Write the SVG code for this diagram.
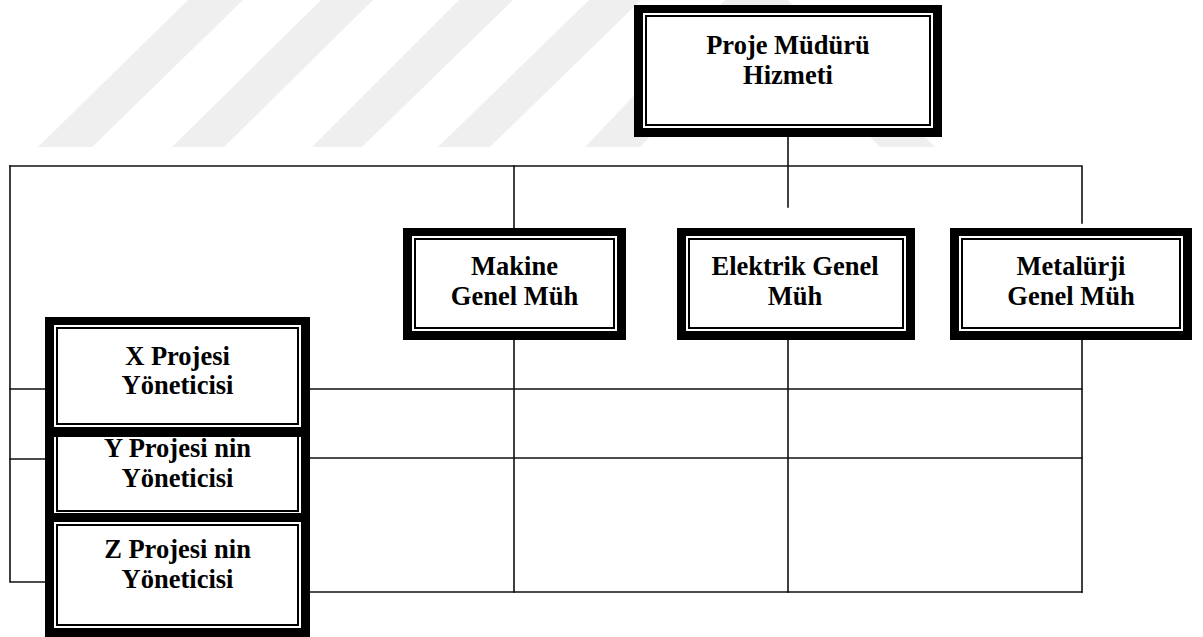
<svg xmlns="http://www.w3.org/2000/svg" width="1203" height="637" viewBox="0 0 1203 637">
<style>
.wm{fill:#efefef}
.ln{stroke:#111;stroke-width:1.6;fill:none;stroke-linecap:square}
.o{fill:#000}
.g{fill:#fff}
.i{fill:#fff;stroke:#000;stroke-width:2}
text{font-family:"Liberation Serif","Times New Roman",serif;font-weight:bold;font-size:26.5px;fill:#000;text-anchor:middle}
</style>
<rect width="1203" height="637" fill="#fff"/>
<g id="watermark">
<polygon class="wm" points="38,147 92,147 243,0 188,0"/>
<polygon class="wm" points="172,147 224,147 373,0 321,0"/>
<polygon class="wm" points="312,147 362,147 513,0 459,0"/>
<polygon class="wm" points="438,147 490,147 641,0 589,0"/>
<polygon class="wm" points="585,147 640,147 780,0 725,0"/>
<polygon class="wm" points="880,147 935,147 788,0 733,0"/>
</g>
<g id="connectors">
<path class="ln" d="M10,166 H1082 V223"/>
<path class="ln" d="M10,166 V582 H45"/>
<path class="ln" d="M10,389 H45 M10,459 H45"/>
<path class="ln" d="M514,166 V228"/>
<path class="ln" d="M788,137 V207"/>
<path class="ln" d="M310,389 H1082 M310,458 H1082 M310,592 H1082"/>
<path class="ln" d="M514,340 V592 M788,340 V592 M1082,340 V592"/>
</g>
<g id="n-top">
<rect class="o" x="634" y="5" width="308" height="132"/>
<rect class="g" x="643" y="13" width="290" height="115"/>
<rect class="i" x="646" y="16" width="284" height="109"/>
<text x="788" y="54">Proje Müdürü</text>
<text x="788" y="84">Hizmeti</text>
</g>
<g id="n-makine">
<rect class="o" x="403" y="228" width="223" height="112"/>
<rect class="g" x="412" y="236" width="205" height="95"/>
<rect class="i" x="415" y="239" width="199" height="89"/>
<text x="514.5" y="275">Makine</text>
<text x="514.5" y="305">Genel Müh</text>
</g>
<g id="n-elektrik">
<rect class="o" x="677" y="228" width="238" height="112"/>
<rect class="g" x="686" y="236" width="220" height="95"/>
<rect class="i" x="689" y="239" width="214" height="89"/>
<text x="795" y="275">Elektrik Genel</text>
<text x="795" y="305">Müh</text>
</g>
<g id="n-metalurji">
<rect class="o" x="950" y="228" width="242" height="112"/>
<rect class="g" x="959" y="236" width="224" height="95"/>
<rect class="i" x="962" y="239" width="218" height="89"/>
<text x="1071" y="275">Metalürji</text>
<text x="1071" y="305">Genel Müh</text>
</g>
<g id="n-y">
<rect class="o" x="45" y="418" width="265" height="105"/>
<rect class="g" x="54" y="426" width="247" height="88"/>
<rect class="i" x="57" y="429" width="241" height="82"/>
<text x="177.5" y="457">Y Projesi nin</text>
<text x="177.5" y="487">Yöneticisi</text>
</g>
<g id="n-z">
<rect class="o" x="45" y="513" width="265" height="124"/>
<rect class="g" x="54" y="522" width="247" height="106"/>
<rect class="i" x="57" y="525" width="241" height="100"/>
<text x="177.5" y="558">Z Projesi nin</text>
<text x="177.5" y="588">Yöneticisi</text>
</g>
<g id="n-x">
<rect class="o" x="45" y="317" width="265" height="120"/>
<rect class="g" x="54" y="325" width="247" height="102"/>
<rect class="i" x="57" y="328" width="241" height="96"/>
<text x="177.5" y="365">X Projesi</text>
<text x="177.5" y="394">Yöneticisi</text>
</g>
</svg>
